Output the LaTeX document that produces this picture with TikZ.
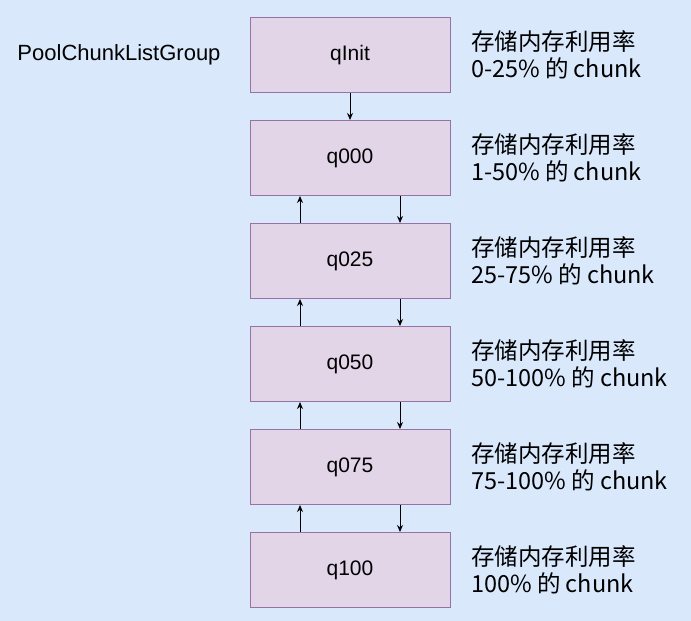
\documentclass[tikz,border=0pt]{standalone}
\usepackage{fontspec}
\setmainfont{Liberation Sans}
\newfontfamily\cjk{Noto Sans CJK SC}
\usepackage{xcolor}
\usepackage{tikz}
\usetikzlibrary{chains,positioning,arrows.meta}

\definecolor{groupbg}{HTML}{DAE8FC}
\definecolor{listfill}{HTML}{E1D5E7}
\definecolor{listline}{HTML}{9673A6}

\begin{document}
\begin{tikzpicture}[x=1pt,y=-1pt]

        \tikzstyle{chunklist}=[draw=listline,fill=listfill,line width=1pt,minimum width=200pt,minimum height=75pt,font=\fontsize{21}{24}\selectfont]
        \tikzstyle{usage}=[anchor=west,align=left,font=\cjk\fontsize{23.5}{27}\selectfont]
        \tikzstyle{link}=[-{Stealth[length=7pt,width=6pt]},line width=1pt]

        %% background of the group
        \fill[groupbg] (0,0) rectangle (691,621);
        \useasboundingbox (0,0) rectangle (691,621);

        \node (group) at (119,55) {\fontsize{22}{26}\selectfont PoolChunkListGroup};

        %% the chunk lists
        \begin{scope}[start chain=1 going below,node distance=27pt]
            \node [on chain=1,chunklist] (qinit) at (350,55) {qInit};
            \node [on chain=1,chunklist] (q000) {q000};
            \node [on chain=1,chunklist] (q025) {q025};
            \node [on chain=1,chunklist] (q050) {q050};
            \node [on chain=1,chunklist] (q075) {q075};
            \node [on chain=1,chunklist] (q100) {q100};
        \end{scope}

        %% usage ranges
        \node [usage] (uinit) at ([xshift=17pt]qinit.east) {存储内存利用率\\0-25\% 的 chunk};
        \node [usage] (u000) at ([xshift=17pt]q000.east) {存储内存利用率\\1-50\% 的 chunk};
        \node [usage] (u025) at ([xshift=17pt]q025.east) {存储内存利用率\\25-75\% 的 chunk};
        \node [usage] (u050) at ([xshift=17pt]q050.east) {存储内存利用率\\50-100\% 的 chunk};
        \node [usage] (u075) at ([xshift=17pt]q075.east) {存储内存利用率\\75-100\% 的 chunk};
        \node [usage] (u100) at ([xshift=17pt]q100.east) {存储内存利用率\\100\% 的 chunk};

        %% links between the lists
        \draw [link] (qinit.south) -- (q000.north);
        \draw [link] ([xshift=50pt]q000.south) -- ([xshift=50pt]q025.north);
        \draw [link] ([xshift=-50pt]q025.north) -- ([xshift=-50pt]q000.south);
        \draw [link] ([xshift=50pt]q025.south) -- ([xshift=50pt]q050.north);
        \draw [link] ([xshift=-50pt]q050.north) -- ([xshift=-50pt]q025.south);
        \draw [link] ([xshift=50pt]q050.south) -- ([xshift=50pt]q075.north);
        \draw [link] ([xshift=-50pt]q075.north) -- ([xshift=-50pt]q050.south);
        \draw [link] ([xshift=50pt]q075.south) -- ([xshift=50pt]q100.north);
        \draw [link] ([xshift=-50pt]q100.north) -- ([xshift=-50pt]q075.south);

\end{tikzpicture}
\end{document}
